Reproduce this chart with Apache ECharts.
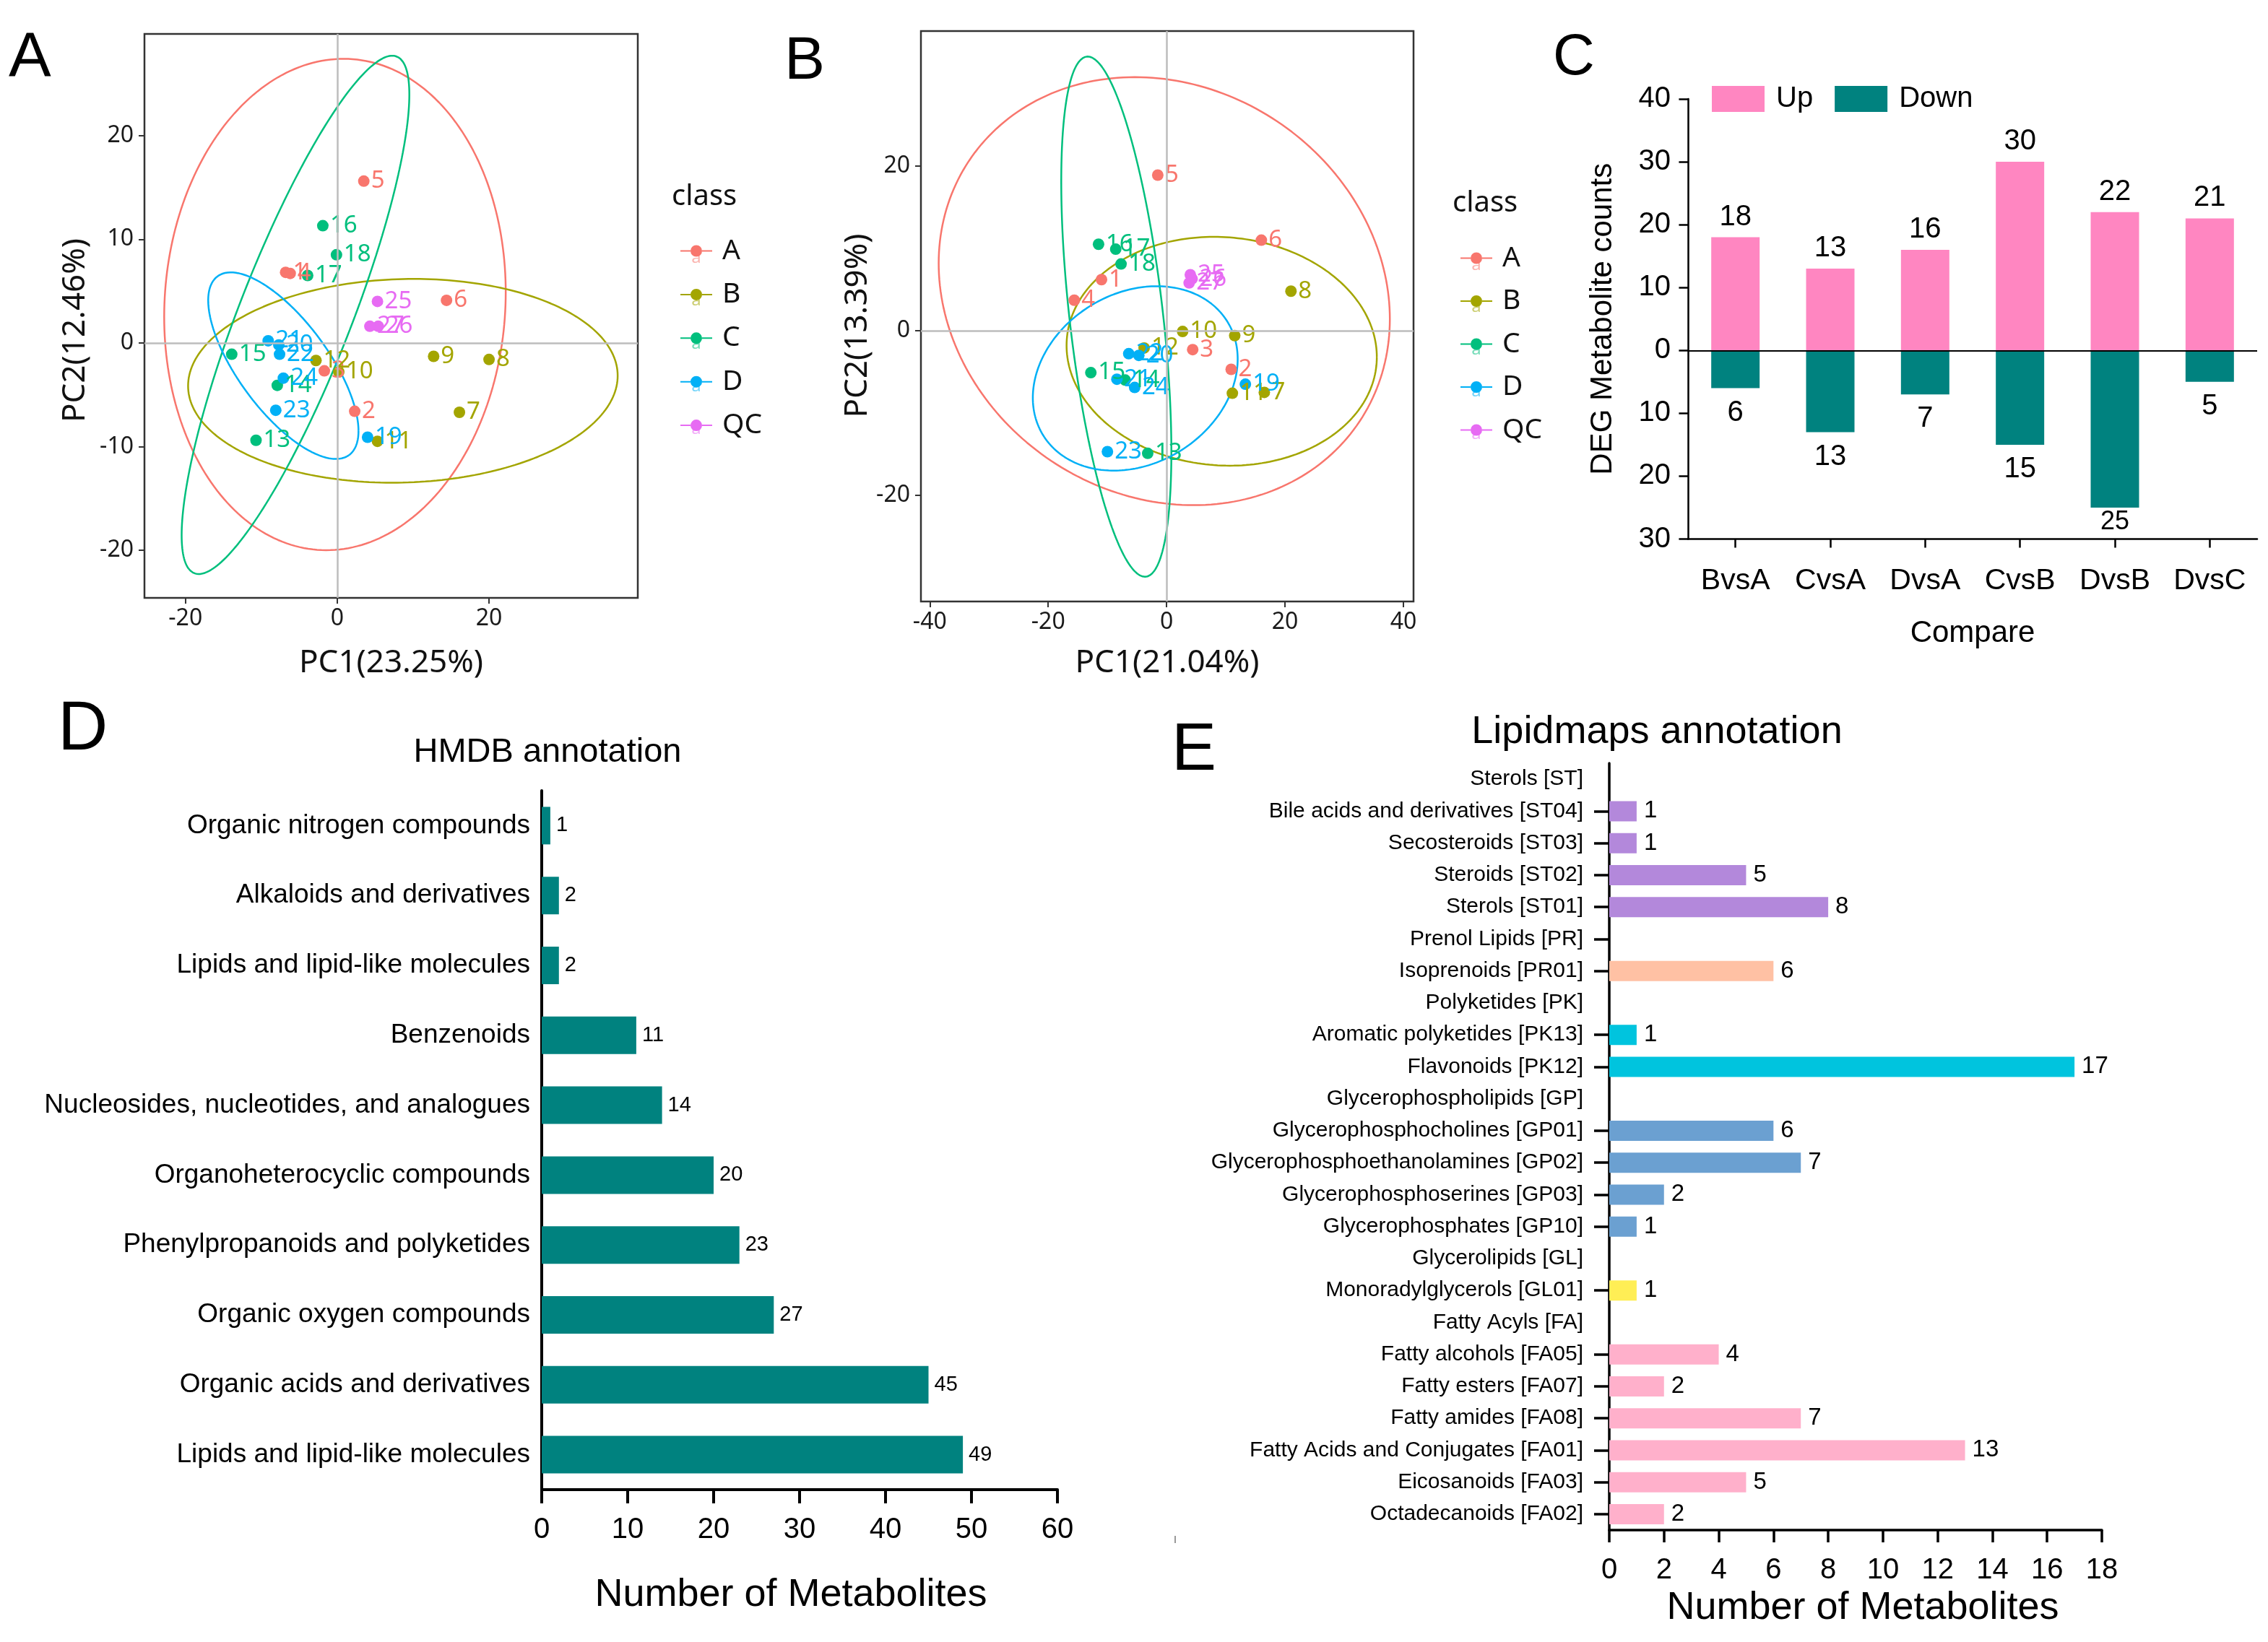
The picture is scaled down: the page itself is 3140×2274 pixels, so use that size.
<!DOCTYPE html>
<html><head><meta charset="utf-8">
<script src="https://cdn.jsdelivr.net/npm/echarts@6/dist/echarts.min.js"></script>
<style>html,body{margin:0;padding:0;background:#fff}#c{width:3140px;height:2274px}</style>
</head><body><div id="c"></div>
<script>
// ---------------- DATA ----------------
const classNames = ['A', 'B', 'C', 'D', 'QC'];
// Panel A PCA scores: [PC1, PC2, sample id]
const pcaA_A = [[-6.8, 6.8, '1'], [2.3, -6.6, '2'], [-1.7, -2.7, '3'], [-6.2, 6.7, '4'], [3.5, 15.6, '5'], [14.4, 4.1, '6']];
const pcaA_B = [[16.1, -6.7, '7'], [20.0, -1.6, '8'], [12.7, -1.3, '9'], [0.2, -2.8, '10'], [5.3, -9.5, '11'], [-2.8, -1.7, '12']];
const pcaA_C = [[-10.7, -9.4, '13'], [-7.9, -4.1, '14'], [-13.9, -1.1, '15'], [-1.9, 11.3, '16'], [-3.9, 6.5, '17'], [-0.1, 8.5, '18']];
const pcaA_D = [[4.0, -9.1, '19'], [-7.7, -0.2, '20'], [-9.1, 0.2, '21'], [-7.6, -1.1, '22'], [-8.1, -6.5, '23'], [-7.1, -3.4, '24']];
const pcaA_QC = [[5.3, 4.0, '25'], [5.4, 1.6, '26'], [4.3, 1.6, '27']];
// Panel A confidence ellipses per class: [centerX, centerY, halfWidthX, halfHeightY, correlation]
const ellipsesA = [[-0.3, 3.7, 22.5, 23.7, 0.05], [8.65, -3.66, 28.3, 9.83, 0.05], [-5.5, 2.7, 15.0, 25.0, 0.85], [-7.1, -2.2, 9.9, 9.0, -0.7]];
const ticksA_x = [-20, 0, 20];
const ticksA_y = [-20, -10, 0, 10, 20];

// Panel B PCA scores
const pcaB_A = [[-11.0, 6.2, '1'], [10.9, -4.7, '2'], [4.4, -2.3, '3'], [-15.6, 3.7, '4'], [-1.5, 18.9, '5'], [16.0, 11.0, '6']];
const pcaB_B = [[16.5, -7.5, '7'], [21.0, 4.8, '8'], [11.5, -0.6, '9'], [2.7, -0.1, '10'], [11.1, -7.6, '11'], [-3.8, -2.1, '12']];
const pcaB_C = [[-3.2, -14.9, '13'], [-7.0, -6.0, '14'], [-12.8, -5.1, '15'], [-11.5, 10.5, '16'], [-8.6, 9.9, '17'], [-7.7, 8.1, '18']];
const pcaB_D = [[13.3, -6.5, '19'], [-4.7, -3.0, '20'], [-8.4, -5.9, '21'], [-6.4, -2.8, '22'], [-10.0, -14.7, '23'], [-5.4, -6.9, '24']];
const pcaB_QC = [[4.0, 6.8, '25'], [4.3, 6.3, '26'], [3.8, 5.8, '27']];
const ellipsesB = [[-0.4, 4.8, 38.1, 26.0, -0.13], [9.3, -2.5, 26.2, 13.9, -0.05], [-8.5, 1.7, 9.3, 31.6, -0.52], [-5.3, -5.8, 17.3, 11.2, 0.21]];
const ticksB_x = [-40, -20, 0, 20, 40];
const ticksB_y = [-20, 0, 20];

// Panel C
const compareCats = ['BvsA', 'CvsA', 'DvsA', 'CvsB', 'DvsB', 'DvsC'];
const upCounts = [18, 13, 16, 30, 22, 21];
const downCounts = [6, 13, 7, 15, 25, 5];

// Panel D
const hmdbClasses = ['Organic nitrogen compounds', 'Alkaloids and derivatives', 'Lipids and lipid-like molecules', 'Benzenoids',
  'Nucleosides, nucleotides, and analogues', 'Organoheterocyclic compounds', 'Phenylpropanoids and polyketides',
  'Organic oxygen compounds', 'Organic acids and derivatives', 'Lipids and lipid-like molecules'];
const hmdbCounts = [1, 2, 2, 11, 14, 20, 23, 27, 45, 49];

// Panel E
const lipidClasses = ['Sterols [ST]', 'Bile acids and derivatives [ST04]', 'Secosteroids [ST03]', 'Steroids [ST02]', 'Sterols [ST01]',
  'Prenol Lipids [PR]', 'Isoprenoids [PR01]', 'Polyketides [PK]', 'Aromatic polyketides [PK13]', 'Flavonoids [PK12]',
  'Glycerophospholipids [GP]', 'Glycerophosphocholines [GP01]', 'Glycerophosphoethanolamines [GP02]', 'Glycerophosphoserines [GP03]',
  'Glycerophosphates [GP10]', 'Glycerolipids [GL]', 'Monoradylglycerols [GL01]', 'Fatty Acyls [FA]', 'Fatty alcohols [FA05]',
  'Fatty esters [FA07]', 'Fatty amides [FA08]', 'Fatty Acids and Conjugates [FA01]', 'Eicosanoids [FA03]', 'Octadecanoids [FA02]'];
const lipidCounts = [null, 1, 1, 5, 8, null, 6, null, 1, 17, null, 6, 7, 2, 1, null, 1, null, 4, 2, 7, 13, 5, 2];
const lipidTicked = [0, 1, 1, 1, 1, 1, 1, 0, 1, 1, 0, 1, 1, 1, 1, 0, 1, 0, 1, 1, 1, 1, 1, 1];

// ---------------- STYLE ----------------
const FA = "'Noto Sans', 'Open Sans', sans-serif";
const FC = "'Liberation Sans', Arial, sans-serif";
const classColors = {A: '#F8766D', B: '#A3A500', C: '#00BF7D', D: '#00B0F6', QC: '#E76BF3'};
const lipidColors = {ST: '#B388DB', PR: '#FFC1A4', PK: '#00C4DE', GP: '#6BA0D1', GL: '#FFEE55', FA: '#FFB0CB'};
const keyIcon = 'path://M0,7 H14 V9 H0 Z M30,7 H44 V9 H30 Z M14,8 A8,8 0 1,0 30,8 A8,8 0 1,0 14,8 Z';

function ellipse(e) {
  const [cx, cy, rx, ry, rho] = e; const s = Math.sqrt(1 - rho * rho); const pts = [];
  for (let i = 0; i <= 240; i++) { const t = i / 240 * 2 * Math.PI; pts.push([cx + rx * Math.cos(t), cy + ry * (rho * Math.cos(t) + s * Math.sin(t))]); }
  return pts;
}

function pcaSeries(idx, groups, ells) {
  const out = [];
  out.push({type: 'scatter', name: '', xAxisIndex: idx, yAxisIndex: idx, data: [], z: 1, silent: true,
    markLine: {silent: true, symbol: 'none', animation: false, label: {show: false},
      lineStyle: {color: '#BDBDBD', width: 2.5, type: 'solid'}, data: [{xAxis: 0}, {yAxis: 0}]}});
  classNames.forEach((c, i) => {
    out.push({type: 'scatter', name: c, xAxisIndex: idx, yAxisIndex: idx, data: groups[i], symbolSize: 16, z: 4,
      itemStyle: {color: classColors[c], opacity: 1},
      label: {show: true, position: 'right', distance: 2, formatter: p => p.data[2], color: classColors[c], fontSize: 33, fontFamily: FA}});
  });
  ells.forEach((e, i) => {
    const c = classNames[i];
    out.push({type: 'line', name: c, xAxisIndex: idx, yAxisIndex: idx, data: ellipse(e), symbol: 'none', showSymbol: false, z: 3,
      silent: true, lineStyle: {color: classColors[c], width: 2.5}, itemStyle: {color: classColors[c]}});
  });
  return out;
}

function pcaAxes(idx, min, max, ticks, isX, name, gap, pad) {
  const ax = {gridIndex: idx, type: 'value', min: min, max: max, splitLine: {show: false},
    axisLine: {show: false, onZero: false},
    axisTick: {show: true, length: 8, customValues: ticks, lineStyle: {color: '#333', width: 2}},
    axisLabel: {show: true, customValues: ticks, fontSize: 32, color: '#1a1a1a', fontFamily: FA, margin: isX ? 13 : 15},
    name: name, nameLocation: 'middle', nameGap: gap,
    nameTextStyle: {fontSize: 44, color: '#111', fontFamily: FA, padding: pad || 0}};
  if (!isX) ax.nameRotate = 90;
  return ax;
}

const chart = echarts.init(document.getElementById('c'));

const series = [].concat(
  pcaSeries(0, [pcaA_A, pcaA_B, pcaA_C, pcaA_D, pcaA_QC], ellipsesA),
  pcaSeries(1, [pcaB_A, pcaB_B, pcaB_C, pcaB_D, pcaB_QC], ellipsesB),
  [
    {type: 'bar', name: 'Up', xAxisIndex: 2, yAxisIndex: 2, stack: 'deg', data: upCounts, barWidth: 67,
      itemStyle: {color: '#FF86C1'},
      label: {show: true, position: 'top', distance: 8, fontSize: 40, color: '#000', fontFamily: FC},
      markLine: {silent: true, symbol: 'none', animation: false, label: {show: false},
        lineStyle: {color: '#000', width: 2, type: 'solid'}, data: [{yAxis: 0}]}},
    {type: 'bar', name: 'Down', xAxisIndex: 2, yAxisIndex: 2, stack: 'deg', barWidth: 67,
      data: downCounts.map(v => v > 20 ? {value: -v, label: {fontSize: 36, distance: 2}} : -v),
      itemStyle: {color: '#00827F'},
      label: {show: true, position: 'bottom', distance: 14, fontSize: 40, color: '#000', fontFamily: FC, formatter: p => Math.abs(p.value)}},
    {type: 'bar', name: 'HMDB', xAxisIndex: 3, yAxisIndex: 3, data: hmdbCounts, barWidth: 52,
      itemStyle: {color: '#00827F'},
      label: {show: true, position: 'right', distance: 8, fontSize: 29, color: '#000', fontFamily: FC}},
    {type: 'bar', name: 'Lipidmaps', xAxisIndex: 4, yAxisIndex: 4, barWidth: 28,
      data: lipidCounts.map((v, i) => v == null ? '-' : {value: v, itemStyle: {color: lipidColors[lipidClasses[i].match(/\[([A-Z]{2})/)[1]]}}),
      label: {show: true, position: 'right', distance: 10, fontSize: 33, color: '#000', fontFamily: FC}}
  ]);

const blackLine = w => ({show: true, onZero: false, lineStyle: {color: '#000', width: w}});

const graphics = [
  {type: 'text', x: 12, y: 82, style: {text: 'A', fontSize: 88, fontFamily: FC, fill: '#000', align: 'left', verticalAlign: 'middle'}},
  {type: 'text', x: 1086, y: 86, style: {text: 'B', fontSize: 84, fontFamily: FC, fill: '#000', align: 'left', verticalAlign: 'middle'}},
  {type: 'text', x: 2150, y: 81, style: {text: 'C', fontSize: 80, fontFamily: FC, fill: '#000', align: 'left', verticalAlign: 'middle'}},
  {type: 'text', x: 80, y: 1012, style: {text: 'D', fontSize: 96, fontFamily: FC, fill: '#000', align: 'left', verticalAlign: 'middle'}},
  {type: 'text', x: 1622, y: 1040, style: {text: 'E', fontSize: 93, fontFamily: FC, fill: '#000', align: 'left', verticalAlign: 'middle'}},
  {type: 'text', x: 758, y: 1042, style: {text: 'HMDB annotation', fontSize: 47, fontFamily: FC, fill: '#000', align: 'center', verticalAlign: 'middle'}},
  {type: 'text', x: 2294, y: 1014, style: {text: 'Lipidmaps annotation', fontSize: 54, fontFamily: FC, fill: '#000', align: 'center', verticalAlign: 'middle'}},
  {type: 'text', x: 930, y: 273, style: {text: 'class', fontSize: 40, fontFamily: FA, fill: '#111', align: 'left', verticalAlign: 'middle'}},
  {type: 'text', x: 2011, y: 282, style: {text: 'class', fontSize: 40, fontFamily: FA, fill: '#111', align: 'left', verticalAlign: 'middle'}},
  {type: 'rect', shape: {x: 1626, y: 2127, width: 2, height: 10}, style: {fill: '#999'}}
];
classNames.forEach((c, i) => {
  graphics.push({type: 'text', x: 964, y: 357 + i * 59.4, z: 0, style: {text: 'a', fontSize: 24, fontFamily: FA, fill: classColors[c], opacity: 0.55, align: 'center', verticalAlign: 'middle'}});
  graphics.push({type: 'text', x: 2044, y: 367 + i * 58.5, z: 0, style: {text: 'a', fontSize: 24, fontFamily: FA, fill: classColors[c], opacity: 0.55, align: 'center', verticalAlign: 'middle'}});
});

const option = {
  animation: false,
  backgroundColor: '#fff',
  grid: [
    {left: 200, top: 47, width: 683, height: 781, show: true, borderColor: '#333', borderWidth: 2.5, backgroundColor: 'transparent', outerBoundsMode: 'none'},
    {left: 1275, top: 43, width: 682, height: 790, show: true, borderColor: '#333', borderWidth: 2.5, backgroundColor: 'transparent', outerBoundsMode: 'none'},
    {left: 2337, top: 137, width: 788, height: 609.5, outerBoundsMode: 'none'},
    {left: 750, top: 1095, width: 714, height: 968, outerBoundsMode: 'none'},
    {left: 2228, top: 1057, width: 682, height: 1062, outerBoundsMode: 'none'}
  ],
  legend: [
    {left: 942, top: 328, orient: 'vertical', padding: 0, itemWidth: 44, itemHeight: 16, itemGap: 21.4, selectedMode: false,
      data: classNames.map(n => ({name: n, icon: keyIcon})),
      textStyle: {fontSize: 39, fontFamily: FA, color: '#111', padding: [0, 0, 0, 9]}},
    {left: 2022, top: 338, orient: 'vertical', padding: 0, itemWidth: 44, itemHeight: 16, itemGap: 20.5, selectedMode: false,
      data: classNames.map(n => ({name: n, icon: keyIcon})),
      textStyle: {fontSize: 39, fontFamily: FA, color: '#111', padding: [0, 0, 0, 9]}},
    {left: 2370, top: 117, padding: 0, itemWidth: 73, itemHeight: 36, itemGap: 30, selectedMode: false, icon: 'rect',
      data: ['Up', 'Down'], textStyle: {fontSize: 40, fontFamily: FC, color: '#000', padding: [0, 0, 0, 11]}}
  ],
  xAxis: [
    pcaAxes(0, -25.4, 39.6, ticksA_x, true, 'PC1(23.25%)', 68),
    pcaAxes(1, -41.5, 41.7, ticksB_x, true, 'PC1(21.04%)', 63),
    {gridIndex: 2, type: 'category', data: compareCats, axisLine: blackLine(2.5),
      axisTick: {show: true, alignWithLabel: true, length: 12, lineStyle: {color: '#000', width: 2.5}},
      axisLabel: {interval: 0, fontSize: 41, color: '#000', margin: 38, fontFamily: FC},
      name: 'Compare', nameLocation: 'middle', nameGap: 110, nameTextStyle: {fontSize: 42, color: '#000', fontFamily: FC}},
    {gridIndex: 3, type: 'value', min: 0, max: 60, interval: 10, splitLine: {show: false}, axisLine: blackLine(4),
      axisTick: {show: true, length: 19, lineStyle: {color: '#000', width: 4}},
      axisLabel: {fontSize: 40, color: '#000', margin: 36, fontFamily: FC},
      name: 'Number of Metabolites', nameLocation: 'middle', nameGap: 119,
      nameTextStyle: {fontSize: 54, color: '#000', fontFamily: FC, padding: [0, 24, 0, 0]}},
    {gridIndex: 4, type: 'value', min: 0, max: 18, interval: 2, splitLine: {show: false}, axisLine: blackLine(3.5),
      axisTick: {show: true, length: 17, lineStyle: {color: '#000', width: 3.5}},
      axisLabel: {fontSize: 40, color: '#000', margin: 36, fontFamily: FC},
      name: 'Number of Metabolites', nameLocation: 'middle', nameGap: 81,
      nameTextStyle: {fontSize: 54, color: '#000', fontFamily: FC, padding: [0, 0, 0, 20]}}
  ],
  yAxis: [
    pcaAxes(0, -24.6, 29.8, ticksA_y, false, 'PC2(12.46%)', 74, [0, 40, 0, 0]),
    pcaAxes(1, -32.9, 36.4, ticksB_y, false, 'PC2(13.39%)', 48, [0, 26, 0, 0]),
    {gridIndex: 2, type: 'value', min: -30, max: 40, interval: 10, splitLine: {show: false}, axisLine: blackLine(2.5),
      axisTick: {show: true, length: 12.6, lineStyle: {color: '#000', width: 2.5}},
      axisLabel: {fontSize: 40, color: '#000', margin: 24, fontFamily: FC, formatter: v => Math.abs(v)},
      name: 'DEG Metabolite counts', nameLocation: 'middle', nameGap: 97, nameRotate: 90,
      nameTextStyle: {fontSize: 42, color: '#000', fontFamily: FC}},
    {gridIndex: 3, type: 'category', inverse: true, data: hmdbClasses, axisLine: blackLine(4), axisTick: {show: false},
      axisLabel: {interval: 0, fontSize: 37, color: '#000', margin: 16, fontFamily: FC}},
    {gridIndex: 4, type: 'category', inverse: true, data: lipidClasses, axisLine: blackLine(3.5),
      axisTick: {show: true, alignWithLabel: true, length: 21, interval: (i) => !!lipidTicked[i], lineStyle: {color: '#000', width: 3.5}},
      axisLabel: {interval: 0, fontSize: 30, color: '#000', margin: 36, fontFamily: FC}}
  ],
  series: series,
  graphic: graphics
};
chart.setOption(option);
</script></body></html>
